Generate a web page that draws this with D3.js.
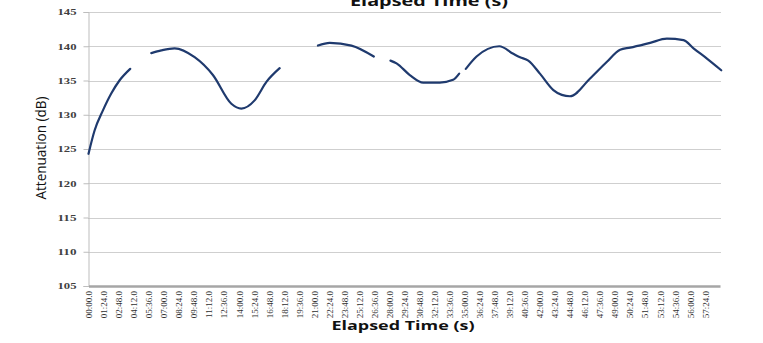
<!DOCTYPE html>
<html><head><meta charset="utf-8">
<script src="https://cdn.jsdelivr.net/npm/d3@7"></script>
<style>html,body{margin:0;padding:0;background:#fff;}svg{display:block;}</style>
</head><body>
<svg id="c" width="763" height="343"></svg>
<script>
// elapsed time (seconds) and attenuation (dB); null marks a gap in the record
const timesSec = [0,34,80,127,173,233,290,
  351,407,481,593,695,798,854,928,994,1068,1180,
  1282,1348,1469,1594,1640,
  1687,1721,1795,1870,1963,2037,2071,2090,
  2108,2168,2295,2373,2411,2457,2522,2597,2644,2690,2802,2895,2970,3026,3138,3231,3324,3380,3455,3535];
const attenuation = [124.3,127.7,130.6,133.1,135.0,136.7,null,
  139.0,139.4,139.7,138.4,135.8,131.6,130.9,132.1,134.8,136.8,null,
  140.1,140.5,140.1,138.5,null,
  137.9,137.5,135.8,134.7,134.7,135.1,136.0,null,
  136.7,138.5,140.0,138.9,138.4,137.9,136.0,133.6,132.9,132.7,135.3,137.7,139.5,139.8,140.5,141.1,140.9,139.7,138.2,136.5];
const yTicks = [105,110,115,120,125,130,135,140,145];
const xTickLabels = ["00:00.0","01:24.0","02:48.0","04:12.0","05:36.0","07:00.0","08:24.0","09:48.0","11:12.0","12:36.0","14:00.0","15:24.0","16:48.0","18:12.0","19:36.0","21:00.0","22:24.0","23:48.0","25:12.0","26:36.0","28:00.0","29:24.0","30:48.0","32:12.0","33:36.0","35:00.0","36:24.0","37:48.0","39:12.0","40:36.0","42:00.0","43:24.0","44:48.0","46:12.0","47:36.0","49:00.0","50:24.0","51:48.0","53:12.0","54:36.0","56:00.0","57:24.0"];
const xTitle = "Elapsed Time (s)";
const yTitle = "Attenuation (dB)";

const toSec = s => { const [m, r] = s.split(":"); return (+m) * 60 + (+r); };
const svg = d3.select("#c");
const x = d3.scaleLinear().domain([0, 3528]).range([88.5, 720]);
const y = d3.scaleLinear().domain([105, 145]).range([286, 12]);

// gridlines
svg.append("g").selectAll("line").data(yTicks.filter(v => v > 105)).join("line")
  .attr("x1", 88).attr("x2", 721).attr("y1", d => Math.round(y(d)) + 0.5).attr("y2", d => Math.round(y(d)) + 0.5)
  .attr("stroke", "#cfcfcf").attr("stroke-width", 1);

// y axis
const yAxis = svg.append("g").attr("transform", "translate(88.5,0)")
  .call(d3.axisLeft(y).tickValues(yTicks).tickSize(5).tickFormat(d3.format("d")));
yAxis.select(".domain").attr("stroke", "#bdbdbd");
yAxis.selectAll(".tick line").attr("stroke", "#bdbdbd");
yAxis.selectAll(".tick text").attr("x", -12)
  .attr("font-family", "'Liberation Serif', serif").attr("font-weight", "bold").attr("font-size", 9)
  .attr("fill", "#404040").attr("textLength", 19).attr("lengthAdjust", "spacingAndGlyphs");

// x axis
const xAxis = svg.append("g").attr("transform", "translate(0,286)")
  .call(d3.axisBottom(x).tickValues(xTickLabels.map(toSec)).tickSize(0).tickFormat((d, i) => xTickLabels[i]));
xAxis.select(".domain").attr("stroke", "#a6a6a6").attr("stroke-width", 2.5);
xAxis.selectAll(".tick text")
  .attr("transform", "rotate(-90)").attr("text-anchor", "end")
  .attr("x", -5).attr("y", 0).attr("dy", "0.35em")
  .attr("font-family", "'Liberation Serif', serif").attr("font-size", 9).attr("fill", "#303030");

// line
const pts = timesSec.map((t, i) => ({ t, v: attenuation[i] }));
svg.append("path").datum(pts)
  .attr("fill", "none").attr("stroke", "#1f3a6e").attr("stroke-width", 2.2)
  .attr("stroke-linejoin", "round").attr("stroke-linecap", "round")
  .attr("d", d3.line().defined(d => d.v !== null).x(d => x(d.t)).y(d => y(d.v)).curve(d3.curveMonotoneX));

// titles
svg.append("text").attr("x", 429).attr("y", 6).attr("text-anchor", "middle")
  .attr("font-family", "'Open Sans', sans-serif").attr("font-weight", "bold").attr("font-size", 14)
  .attr("textLength", 158).attr("lengthAdjust", "spacingAndGlyphs").attr("fill", "#111").text(xTitle);
svg.append("text").attr("x", 403).attr("y", 330).attr("text-anchor", "middle")
  .attr("font-family", "'Open Sans', sans-serif").attr("font-weight", "bold").attr("font-size", 13)
  .attr("textLength", 143).attr("lengthAdjust", "spacingAndGlyphs").attr("fill", "#111").text(xTitle);
svg.append("text").attr("transform", "translate(46,148) rotate(-90)").attr("text-anchor", "middle")
  .attr("font-family", "'Open Sans', sans-serif").attr("font-size", 15)
  .attr("textLength", 103).attr("lengthAdjust", "spacingAndGlyphs").attr("fill", "#111").text(yTitle);
</script>
</body></html>
